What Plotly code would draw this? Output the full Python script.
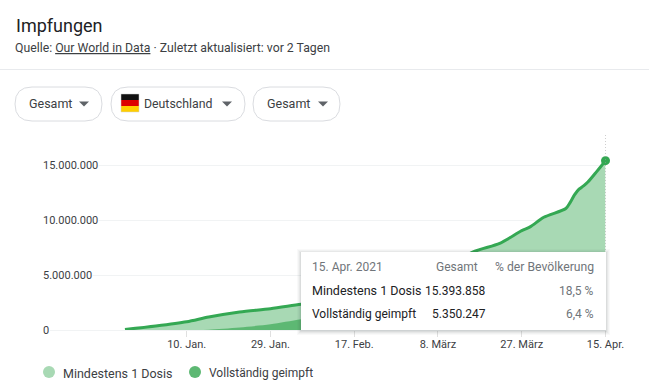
import plotly.graph_objects as go

W, H = 649, 389
FONT = "Roboto, Arial, sans-serif"

# ---- data ----
dose1_dates = ["2020-12-27","2021-01-03","2021-01-10","2021-01-15","2021-01-22","2021-01-29","2021-02-05",
               "2021-02-17","2021-02-26","2021-03-08","2021-03-16","2021-03-22","2021-03-27","2021-03-29",
               "2021-04-01","2021-04-06","2021-04-07","2021-04-08","2021-04-09","2021-04-10","2021-04-11",
               "2021-04-13","2021-04-15"]
dose1_values = [50000,364000,750000,1180000,1640000,1940000,2340000,
                2950000,3700000,5100000,7100000,7880000,9030000,9400000,
                10250000,11050000,11600000,12300000,12800000,13100000,13450000,
                14400000,15393858]
full_dates = ["2021-01-12","2021-01-15","2021-01-22","2021-01-29","2021-02-05","2021-02-17",
              "2021-03-08","2021-03-27","2021-04-15"]
full_values = [0,30000,230000,520000,970000,1600000,2400000,3600000,5350247]

x_tick_dates = ["2021-01-10","2021-01-29","2021-02-17","2021-03-08","2021-03-27","2021-04-15"]
x_tick_labels = ["10. Jan.","29. Jan.","17. Feb.","8. März","27. März","15. Apr."]
y_tick_values = [0,5000000,10000000,15000000]
y_tick_labels = ["0","5.000.000","10.000.000","15.000.000"]

legend_labels = ["Mindestens 1 Dosis","Vollständig geimpft"]
tip_date = "15. Apr. 2021"
tip_headers = ["Gesamt","% der Bevölkerung"]
tip_rows = [("Mindestens 1 Dosis","15.393.858","18,5 %"),("Vollständig geimpft","5.350.247","6,4 %")]
menu_labels = ["Gesamt","Deutschland","Gesamt"]

LIGHT, DARK, LINE = "#a8d9b4", "#5db873", "#34a853"

def px(x): return x / W
def py(y): return 1 - y / H

def rect(x0, y0, x1, y1, **kw):
    return dict(type="rect", xref="paper", yref="paper", x0=px(x0), x1=px(x1), y0=py(y0), y1=py(y1), **kw)

def text(x, y, s, size=12, color="#3c4043", anchor="left", bg=None):
    d = dict(x=px(x), y=py(y), xref="paper", yref="paper", text=s, showarrow=False, xanchor=anchor,
             yanchor="middle", align=anchor, font=dict(family=FONT, size=size, color=color))
    if bg:
        d["bgcolor"] = bg
    return d

def pill(x0, x1, y0=87, y1=121, r=17):
    p = (f"M {px(x0+r)} {py(y0)} L {px(x1-r)} {py(y0)} "
         f"Q {px(x1)} {py(y0)} {px(x1)} {py((y0+y1)/2)} Q {px(x1)} {py(y1)} {px(x1-r)} {py(y1)} "
         f"L {px(x0+r)} {py(y1)} Q {px(x0)} {py(y1)} {px(x0)} {py((y0+y1)/2)} Q {px(x0)} {py(y0)} {px(x0+r)} {py(y0)} Z")
    return dict(type="path", xref="paper", yref="paper", path=p, line=dict(color="#dadce0", width=1), fillcolor="white")

def caret(xc, yc=103.5):
    p = f"M {px(xc-5)} {py(yc-2)} L {px(xc+5)} {py(yc-2)} L {px(xc)} {py(yc+3)} Z"
    return dict(type="path", xref="paper", yref="paper", path=p, line=dict(width=0), fillcolor="#5f6368")

fig = go.Figure()
fig.add_trace(go.Scatter(x=dose1_dates, y=dose1_values, mode="lines", fill="tozeroy", fillcolor=LIGHT,
                         line=dict(color="rgba(0,0,0,0)", width=0, shape="spline", smoothing=0.8), hoverinfo="skip"))
fig.add_trace(go.Scatter(x=full_dates, y=full_values, mode="lines", fill="tozeroy", fillcolor=DARK,
                         line=dict(color="rgba(0,0,0,0)", width=0, shape="spline", smoothing=0.8), hoverinfo="skip"))
fig.add_trace(go.Scatter(x=dose1_dates, y=dose1_values, mode="lines",
                         line=dict(color=LINE, width=3, shape="spline", smoothing=0.8), hoverinfo="skip"))
fig.add_trace(go.Scatter(x=dose1_dates[-1:], y=dose1_values[-1:], mode="markers",
                         marker=dict(color=LINE, size=9), cliponaxis=False, hoverinfo="skip"))

shapes = [
    dict(type="line", xref="paper", yref="paper", x0=0, x1=1, y0=py(69.5), y1=py(69.5), line=dict(color="#e8eaed", width=1)),
    pill(15, 102), pill(111, 245), pill(253, 340),
    caret(84), caret(227), caret(323),
    rect(121, 94, 139, 100, fillcolor="#111111", line_width=0),
    rect(121, 100, 139, 106, fillcolor="#dd0000", line_width=0),
    rect(121, 106, 139, 112, fillcolor="#ffce00", line_width=0),
    rect(121, 94, 139, 112, fillcolor="rgba(0,0,0,0)", line=dict(color="#d0d0d0", width=0.5)),
    dict(type="line", xref="x", yref="paper", x0=x_tick_dates[-1], x1=x_tick_dates[-1], y0=py(135), y1=py(330),
         line=dict(color="#9e9e9e", width=1, dash="1px,2px"), layer="above"),
    dict(type="circle", xref="paper", yref="paper", x0=px(43), x1=px(55), y0=py(378), y1=py(366), fillcolor=LIGHT, line_width=0),
    dict(type="circle", xref="paper", yref="paper", x0=px(189), x1=px(201), y0=py(378), y1=py(366), fillcolor=DARK, line_width=0),
]
# tooltip shadow and body
for g, a in [(4, 0.03), (3, 0.04), (2, 0.05), (1, 0.07)]:
    shapes.append(rect(301 - g, 252 - g + 1, 606 + g, 330 + g + 1, fillcolor=f"rgba(60,64,67,{a})", line_width=0, layer="above"))
shapes.append(rect(301, 252, 606, 330, fillcolor="white", line_width=0, layer="above"))

ann = [
    text(13.5, 26, "Impfungen", size=18, color="#202124"),
    text(13, 48, 'Quelle: <u>Our World in Data</u> · Zuletzt aktualisiert: vor 2 Tagen', size=12.25, color="#3c4043"),
    text(27, 104, menu_labels[0], size=12.5),
    text(142, 104, menu_labels[1], size=12.3),
    text(265, 104, menu_labels[2], size=12.5),
    text(61, 373, legend_labels[0], size=12.5),
    text(207, 373, legend_labels[1], size=12),
    text(310, 267, tip_date, size=12, color="#70757a"),
    text(479.5, 267, tip_headers[0], size=12, color="#70757a", anchor="right"),
    text(596, 267, tip_headers[1], size=12.2, color="#70757a", anchor="right"),
]
for (name, total, pct), y, sz in zip(tip_rows, [290.5, 314], [12.5, 12]):
    ann.append(text(310, y, name, size=sz, color="#202124"))
    ann.append(text(488.5, y, total, size=12, color="#202124", anchor="right"))
    ann.append(text(596, y, pct, size=12, color="#70757a", anchor="right"))
for v, lab in zip(y_tick_values, y_tick_labels):
    ann.append(dict(x=px(42), xref="paper", y=v, yref="y", text=lab, showarrow=False, xanchor="left", yanchor="middle",
                    bgcolor="white", borderpad=0, font=dict(family=FONT, size=11, color="#3c4043")))

fig.update_layout(
    width=W, height=H, margin=dict(l=0, r=0, t=0, b=0, autoexpand=False), showlegend=False,
    paper_bgcolor="white", plot_bgcolor="white", shapes=shapes, annotations=ann,
    font=dict(family=FONT),
    xaxis=dict(domain=[px(50), px(605.5)], range=["2020-12-10", "2021-04-15"], type="date",
               tickmode="array", tickvals=x_tick_dates, ticktext=x_tick_labels, showgrid=False, zeroline=False,
               ticks="outside", ticklen=6, tickcolor="#e0e0e0", tickwidth=1, showline=False, ticklabelstandoff=-2,
               tickfont=dict(family=FONT, size=11, color="#3c4043")),
    yaxis=dict(domain=[py(330), py(135)], range=[0, 17727000], tickmode="array", tickvals=y_tick_values,
               showticklabels=False, showgrid=True, gridcolor="#f1f3f4", gridwidth=1, zeroline=True,
               zerolinecolor="#f1f3f4", zerolinewidth=1),
)
fig.write_html("out.html", config={"displayModeBar": False},
               post_script="document.body.style.margin='0';document.documentElement.style.overflow='hidden';")
